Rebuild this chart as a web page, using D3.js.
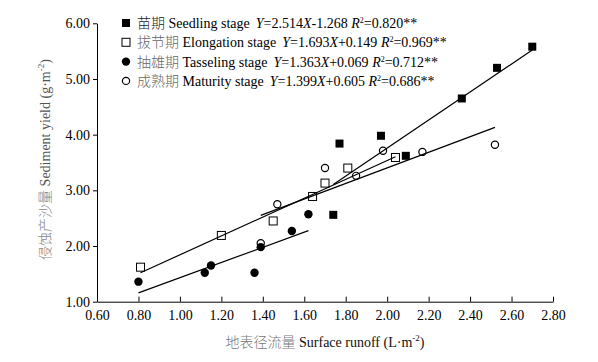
<!DOCTYPE html>
<html>
<head>
<meta charset="utf-8">
<script src="https://cdn.jsdelivr.net/npm/d3@7"></script>
</head>
<body style="margin:0;background:#fff">
<svg id="chart"></svg>
<script>
// --- Dados ---
const stageNamesCn = ["苗期", "拔节期", "抽雄期", "成熟期"];
const stageNamesEn = ["Seedling stage", "Elongation stage", "Tasseling stage", "Maturity stage"];
const slopes = [2.514, 1.693, 1.363, 1.399];
const intercepts = [-1.268, 0.149, 0.069, 0.605];
const r2Values = ["0.820", "0.969", "0.712", "0.686"];

const seedlingRunoff = [1.74, 1.77, 1.97, 2.09, 2.36, 2.53, 2.70];
const seedlingSediment = [2.56, 3.84, 3.98, 3.62, 4.65, 5.20, 5.58];
const elongationRunoff = [0.81, 1.20, 1.45, 1.64, 1.70, 1.81, 2.04];
const elongationSediment = [1.62, 2.19, 2.45, 2.89, 3.13, 3.40, 3.59];
const tasselingRunoff = [0.80, 1.12, 1.15, 1.36, 1.39, 1.54, 1.62];
const tasselingSediment = [1.36, 1.52, 1.65, 1.52, 1.98, 2.27, 2.57];
const maturityRunoff = [1.39, 1.47, 1.70, 1.85, 1.98, 2.17, 2.52];
const maturitySediment = [2.05, 2.75, 3.40, 3.26, 3.71, 3.69, 3.82];

const xTicks = [0.6, 0.8, 1.0, 1.2, 1.4, 1.6, 1.8, 2.0, 2.2, 2.4, 2.6, 2.8];
const yTicks = [1, 2, 3, 4, 5, 6];

// --- Configurações ---
const W = 598, H = 362;
const margin = { top: 23.3, right: 45, bottom: 60.3, left: 97 };
const width = W - margin.left - margin.right;
const height = H - margin.top - margin.bottom;
const serif = '"Liberation Serif", "Times New Roman", serif';
const cjk = '"Noto Sans CJK SC", sans-serif';

const svg = d3.select("#chart").attr("width", W).attr("height", H);
const g = svg.append("g").attr("transform", `translate(${margin.left},${margin.top})`);

// --- Escalas ---
const xScale = d3.scaleLinear().domain([0.6, 2.8]).range([0, width]);
const yScale = d3.scaleLinear().domain([1, 6]).range([height, 0]);

// --- Eixos ---
const xAxis = d3.axisBottom(xScale).tickValues(xTicks)
    .tickSizeInner(-5).tickSizeOuter(0).tickPadding(8)
    .tickFormat(d3.format(".2f"));
const yAxis = d3.axisLeft(yScale).tickValues(yTicks)
    .tickSizeInner(4).tickSizeOuter(0).tickPadding(3)
    .tickFormat(d3.format(".2f"));

g.append("g").attr("transform", `translate(0,${height})`).call(xAxis);
g.append("g").call(yAxis);
g.selectAll(".tick text")
    .style("font-family", serif).style("font-size", "14px").attr("fill", "#000");
g.selectAll(".domain, .tick line").attr("stroke", "#000").attr("stroke-width", 1);

// --- Séries ---
const series = [
    { x: seedlingRunoff, y: seedlingSediment, shape: "square", filled: true },
    { x: elongationRunoff, y: elongationSediment, shape: "square", filled: false },
    { x: tasselingRunoff, y: tasselingSediment, shape: "circle", filled: true },
    { x: maturityRunoff, y: maturitySediment, shape: "circle", filled: false }
];

function drawMarker(sel, s) {
    if (s.shape === "square") {
        const side = 8;
        sel.append("rect")
            .attr("x", -side / 2).attr("y", -side / 2)
            .attr("width", side).attr("height", side)
            .attr("fill", s.filled ? "#000" : "none")
            .attr("stroke", "#000").attr("stroke-width", s.filled ? 0 : 1);
    } else {
        sel.append("circle")
            .attr("r", s.filled ? 4.2 : 3.6)
            .attr("fill", s.filled ? "#000" : "none")
            .attr("stroke", "#000").attr("stroke-width", s.filled ? 0 : 1.2);
    }
}

// Linhas de regressão (do menor ao maior X de cada série)
series.forEach((s, i) => {
    const [x0, x1] = d3.extent(s.x);
    g.append("line")
        .attr("x1", xScale(x0)).attr("y1", yScale(slopes[i] * x0 + intercepts[i]))
        .attr("x2", xScale(x1)).attr("y2", yScale(slopes[i] * x1 + intercepts[i]))
        .attr("stroke", "#000").attr("stroke-width", 1.2);
});

// Pontos
series.forEach(s => {
    const pts = s.x.map((v, j) => [v, s.y[j]]);
    g.selectAll(null).data(pts).enter()
        .append("g")
        .attr("transform", d => `translate(${xScale(d[0])},${yScale(d[1])})`)
        .each(function() { drawMarker(d3.select(this), s); });
});

// --- Legenda ---
const legend = svg.append("g").attr("transform", "translate(126,23)");
series.forEach((s, i) => {
    const row = legend.append("g").attr("transform", `translate(0,${i * 19.3})`);
    drawMarker(row, s);
    const t = row.append("text").attr("x", 11).attr("y", 5)
        .style("font-family", serif).style("font-size", "14px").attr("fill", "#000");
    t.append("tspan").style("font-family", cjk).style("font-weight", 300)
        .attr("fill", i === 0 ? "#222" : "#666").text(stageNamesCn[i]);
    t.append("tspan").text(" " + stageNamesEn[i]);
    const b = intercepts[i] < 0 ? "-" + Math.abs(intercepts[i]).toFixed(3) : "+" + intercepts[i].toFixed(3);
    t.append("tspan").attr("dx", 6).style("font-style", "italic").text("Y");
    t.append("tspan").text("=" + slopes[i].toFixed(3));
    t.append("tspan").style("font-style", "italic").text("X");
    t.append("tspan").text(b + " ");
    t.append("tspan").style("font-style", "italic").text("R");
    t.append("tspan").style("font-size", "8px").attr("dy", -5).text("2");
    t.append("tspan").attr("dy", 5).text("=" + r2Values[i] + "**");
});

// --- Títulos dos eixos ---
const xTitle = svg.append("text")
    .attr("x", margin.left + width / 2).attr("y", 347)
    .attr("text-anchor", "middle")
    .style("font-family", serif).style("font-size", "14px");
xTitle.append("tspan").style("font-family", cjk).style("font-weight", 300).attr("fill", "#777").text("地表径流量");
xTitle.append("tspan").attr("fill", "#111").text(" Surface runoff (L·m");
xTitle.append("tspan").attr("fill", "#111").style("font-size", "9px").attr("dy", -6).text("-2");
xTitle.append("tspan").attr("fill", "#111").attr("dy", 6).text(")");

const yTitle = svg.append("text")
    .attr("transform", `translate(50,${margin.top + height / 2 - 3}) rotate(-90)`)
    .attr("text-anchor", "middle")
    .style("font-family", serif).style("font-size", "14px");
yTitle.append("tspan").style("font-family", cjk).style("font-weight", 300).attr("fill", "#888").text("侵蚀产沙量");
yTitle.append("tspan").attr("fill", "#555").text(" Sediment yield (g·m");
yTitle.append("tspan").attr("fill", "#555").style("font-size", "9px").attr("dy", -6).text("-2");
yTitle.append("tspan").attr("fill", "#555").attr("dy", 6).text(")");
</script>
</body>
</html>
